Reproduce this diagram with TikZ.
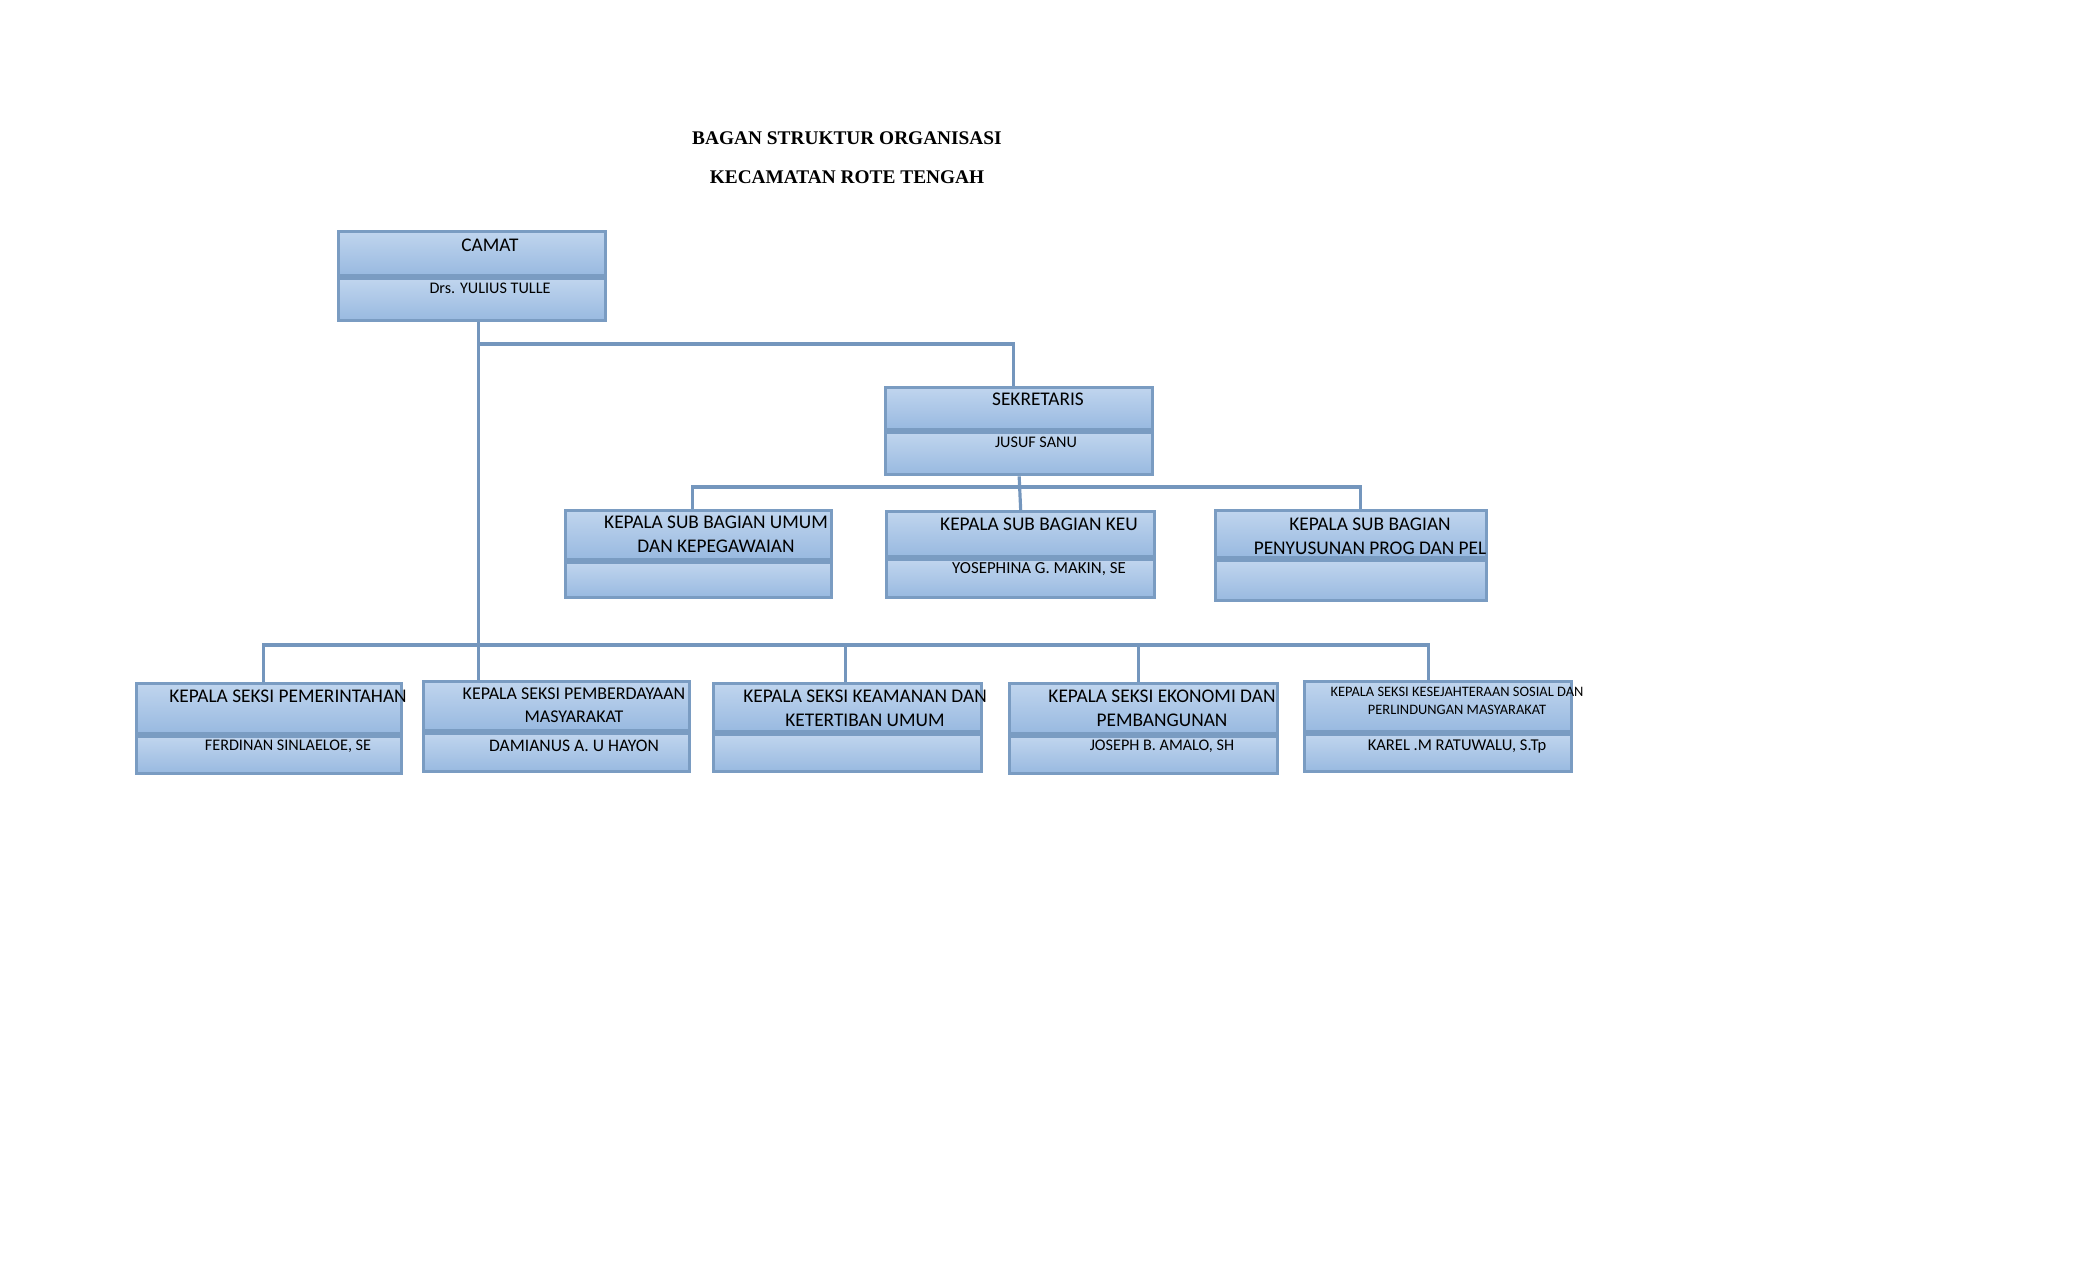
\documentclass[tikz,border=0pt]{standalone}
\usepackage{fontspec}
\setmainfont{Carlito}
\newfontfamily\titlefont{Liberation Serif}
\usetikzlibrary{positioning}

\definecolor{boxtop}{RGB}{192,213,238}
\definecolor{boxbot}{RGB}{152,185,224}
\definecolor{boxline}{RGB}{122,156,194}
\definecolor{wire}{RGB}{116,150,189}

\begin{document}
\begin{tikzpicture}[
  x=0.01cm,y=-0.01cm,
  cell/.style={draw=boxline,line width=0.9pt,top color=boxtop,bottom color=boxbot,
    inner sep=0pt,anchor=north west},
  txt/.style={font=\fontsize{5.5}{6.8}\selectfont,align=center,inner sep=0pt},
  nametxt/.style={font=\fontsize{4.8}{6}\selectfont,inner sep=0pt},
  headtxt/.style={font=\titlefont\bfseries\fontsize{5.5}{6.6}\selectfont,inner sep=0pt},
  wire/.style={draw=wire,line width=0.9pt}]
\useasboundingbox (0,0) rectangle (2100,1275);

% title
\node[headtxt] (title1) at (847,138) {BAGAN STRUKTUR ORGANISASI};
\node[headtxt] (title2) at (847,177) {KECAMATAN ROTE TENGAH};

% camat
\node[cell,minimum width=2.67cm,minimum height=0.44cm] (camat) at (337,230) {};
\node[cell,minimum width=2.67cm,minimum height=0.42cm] (camat-nm) at (camat.south west) {};
\node[txt] (camat-t) at (490,245) {CAMAT};
\node[nametxt,font=\fontsize{4.6}{6}\selectfont] (camat-n) at (490,288) {Drs. YULIUS TULLE};

% sekretaris
\node[cell,minimum width=2.67cm,minimum height=0.42cm] (sek) at (884,386) {};
\node[cell,minimum width=2.67cm,minimum height=0.42cm] (sek-nm) at (sek.south west) {};
\node[txt] (sek-t) at (1038,399) {SEKRETARIS};
\node[nametxt,font=\fontsize{4.6}{6}\selectfont] (sek-n) at (1036,442) {JUSUF SANU};

% sub bagian
\node[cell,minimum width=2.66cm,minimum height=0.49cm] (umum) at (564,509) {};
\node[cell,minimum width=2.66cm,minimum height=0.35cm] (umum-nm) at (umum.south west) {};
\node[txt] (umum-t) at (716,534) {KEPALA SUB BAGIAN UMUM\\DAN KEPEGAWAIAN};

\node[cell,minimum width=2.68cm,minimum height=0.45cm] (keu) at (885,510) {};
\node[cell,minimum width=2.68cm,minimum height=0.38cm] (keu-nm) at (keu.south west) {};
\node[txt] (keu-t) at (1039,524) {KEPALA SUB BAGIAN KEU};
\node[nametxt] (keu-n) at (1039,569) {YOSEPHINA G. MAKIN, SE};

\node[cell,minimum width=2.71cm,minimum height=0.47cm] (prog) at (1214,509) {};
\node[cell,minimum width=2.71cm,minimum height=0.40cm] (prog-nm) at (prog.south west) {};
\node[txt] (prog-t) at (1370,536) {KEPALA SUB BAGIAN\\PENYUSUNAN PROG DAN PEL};

% seksi
\node[cell,minimum width=2.65cm,minimum height=0.50cm] (pmr) at (135,682) {};
\node[cell,minimum width=2.65cm,minimum height=0.37cm] (pmr-nm) at (pmr.south west) {};
\node[txt] (pmr-t) at (288,696) {KEPALA SEKSI PEMERINTAHAN};
\node[nametxt,font=\fontsize{4.6}{6}\selectfont] (pmr-n) at (288,746) {FERDINAN SINLAELOE, SE};

\node[cell,minimum width=2.66cm,minimum height=0.49cm] (pmb) at (422,680) {};
\node[cell,minimum width=2.66cm,minimum height=0.38cm] (pmb-nm) at (pmb.south west) {};
\node[txt,font=\fontsize{5.1}{6.6}\selectfont] (pmb-t) at (574,705) {KEPALA SEKSI PEMBERDAYAAN\\MASYARAKAT};
\node[nametxt,font=\fontsize{5}{6}\selectfont] (pmb-n) at (574,746) {DAMIANUS A. U HAYON};

\node[cell,minimum width=2.68cm,minimum height=0.48cm] (kam) at (712,682) {};
\node[cell,minimum width=2.68cm,minimum height=0.37cm] (kam-nm) at (kam.south west) {};
\node[txt] (kam-t) at (865,708) {KEPALA SEKSI KEAMANAN DAN\\KETERTIBAN UMUM};

\node[cell,minimum width=2.68cm,minimum height=0.50cm] (eko) at (1008,682) {};
\node[cell,minimum width=2.68cm,minimum height=0.37cm] (eko-nm) at (eko.south west) {};
\node[txt] (eko-t) at (1162,708) {KEPALA SEKSI EKONOMI DAN\\PEMBANGUNAN};
\node[nametxt,font=\fontsize{4.6}{6}\selectfont] (eko-n) at (1162,746) {JOSEPH B. AMALO, SH};

\node[cell,minimum width=2.67cm,minimum height=0.50cm] (ksj) at (1303,680) {};
\node[cell,minimum width=2.67cm,minimum height=0.37cm] (ksj-nm) at (ksj.south west) {};
\node[txt,font=\fontsize{4.1}{5.2}\selectfont] (ksj-t) at (1457,701) {KEPALA SEKSI KESEJAHTERAAN SOSIAL DAN\\PERLINDUNGAN MASYARAKAT};
\node[nametxt,font=\fontsize{4.7}{6}\selectfont] (ksj-n) at (1457,746) {KAREL .M RATUWALU, S.Tp};

% connectors
\coordinate (sekbus) at (0,344);
\coordinate (subbus) at (0,487);
\coordinate (botbus) at (0,645);
\coordinate (trunk) at ([xshift=0.06cm]camat-nm.south);
\draw[wire] (trunk) -- (trunk |- pmb.north);
\draw[wire] (trunk |- sekbus) -| ([xshift=-0.06cm]sek.north);
\draw[wire] (sek-nm.south) -- (keu.north);
\draw[wire] ([xshift=-0.06cm]umum.north) |- (sek-nm.south |- subbus) -| ([xshift=0.09cm]prog.north);
\draw[wire] ([xshift=-0.06cm]pmr.north) |- (trunk |- botbus) -| ([xshift=-0.10cm]ksj.north);
\draw[wire] ([xshift=-0.02cm]kam.north) -- ([xshift=-0.02cm]kam.north |- botbus);
\draw[wire] ([xshift=-0.05cm]eko.north) -- ([xshift=-0.05cm]eko.north |- botbus);
\end{tikzpicture}
\end{document}
